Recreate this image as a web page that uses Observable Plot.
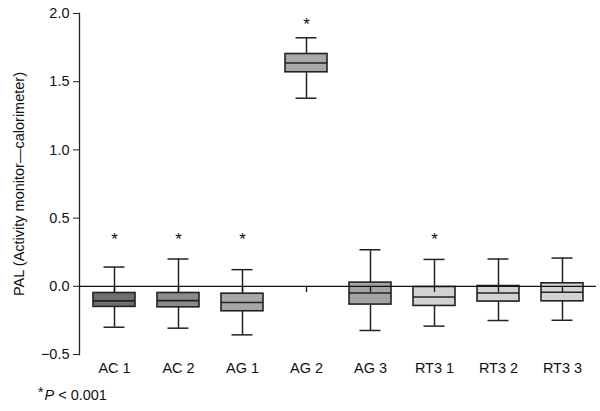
<!DOCTYPE html>
<html>
<head>
<meta charset="utf-8">
<script src="https://cdn.jsdelivr.net/npm/d3@7"></script>
<script src="https://cdn.jsdelivr.net/npm/@observablehq/plot@0.6"></script>
<style>
  html, body { margin: 0; padding: 0; background: #fff; }
  body { width: 600px; height: 411px; overflow: hidden; font-family: "Liberation Sans", Arial, sans-serif; }
  #foot { font-size: 14.5px; color: #111; margin-left: 38px; margin-top: 0px; line-height: 18px; }
  #foot sup { font-size: 14px; position: relative; top: 3px; margin-right: 1px; }
</style>
</head>
<body>
<div id="chart"></div>
<div id="foot"><sup>*</sup><i>P</i> &lt; 0.001</div>
<script>
const categories = ["AC 1", "AC 2", "AG 1", "AG 2", "AG 3", "RT3 1", "RT3 2", "RT3 3"];
const whiskerLow  = [-0.300, -0.307, -0.356, 1.379, -0.324, -0.292, -0.251, -0.249];
const q1          = [-0.151, -0.154, -0.183, 1.569, -0.134, -0.144, -0.112, -0.110];
const median      = [-0.107, -0.105, -0.119, 1.637, -0.049, -0.078, -0.049, -0.044];
const q3          = [-0.049, -0.049, -0.054, 1.703,  0.027, -0.005,  0.002,  0.022];
const whiskerHigh = [ 0.141,  0.200,  0.122, 1.822,  0.268,  0.197,  0.200,  0.207];
const significant = [true, true, true, true, false, true, false, false];
const yTicks = [-0.5, 0, 0.5, 1.0, 1.5, 2.0];
const fills = ["#6f6f6f", "#8b8b8b", "#a7a7a7", "#a9a9a9", "#a3a3a3", "#d2d2d2", "#d2d2d2", "#d2d2d2"];

const rows = categories.map((c, i) => ({
  cat: c, lo: whiskerLow[i], q1: q1[i], med: median[i], q3: q3[i], hi: whiskerHigh[i],
  sig: significant[i], fill: fills[i]
}));
const stars = rows.filter(d => d.sig).map(d => ({cat: d.cat, y: Math.max(0.36, d.hi + 0.11)}));
const fmt = d => d3.format(".1f")(d).replace("-", "\u2013");

const chart = Plot.plot({
  width: 600,
  height: 380,
  marginLeft: 79,
  marginRight: 4,
  marginTop: 13,
  marginBottom: 26,
  style: {fontFamily: "'Liberation Sans', Arial, sans-serif", fontSize: "14.5px", color: "#111"},
  x: {domain: categories, padding: 0, label: null},
  y: {domain: [-0.5, 2.0]},
  marks: [
    Plot.axisX({tickSize: 0, tickPadding: 8, label: null, fontSize: 14.5}),
    Plot.axisY({ticks: yTicks, tickFormat: fmt, tickSize: 6, tickPadding: 4, stroke: "#222", strokeOpacity: 1, fontSize: 14.5,
      label: "PAL (Activity monitor\u2014calorimeter)", labelAnchor: "center", labelArrow: "none", labelOffset: 66}),
    Plot.frame({anchor: "left", stroke: "#222", strokeWidth: 1.3}),
    Plot.ruleX(rows, {x: "cat", y1: "lo", y2: "hi", stroke: "#222", strokeWidth: 1.5}),
    Plot.tickY(rows, {x: "cat", y: "lo", stroke: "#222", strokeWidth: 1.5, insetLeft: 21.5, insetRight: 21.5}),
    Plot.tickY(rows, {x: "cat", y: "hi", stroke: "#222", strokeWidth: 1.5, insetLeft: 21.5, insetRight: 21.5}),
    Plot.rectY(rows, {x: "cat", y1: "q1", y2: "q3", fill: "fill", stroke: "#222", strokeWidth: 1.6, insetLeft: 11, insetRight: 11}),
    Plot.tickY(rows, {x: "cat", y: "med", stroke: "#222", strokeWidth: 1.6, insetLeft: 11, insetRight: 11}),
    Plot.ruleY([0], {stroke: "#111", strokeWidth: 1.3}),
    Plot.ruleX(rows, {x: "cat", y1: 0, y2: -0.045, stroke: "#111", strokeWidth: 1.3}),
    Plot.text(stars, {x: "cat", y: "y", text: () => "*", fontSize: 17, dy: 2, fill: "#111"})
  ]
});
document.getElementById("chart").appendChild(chart);
</script>
</body>
</html>
